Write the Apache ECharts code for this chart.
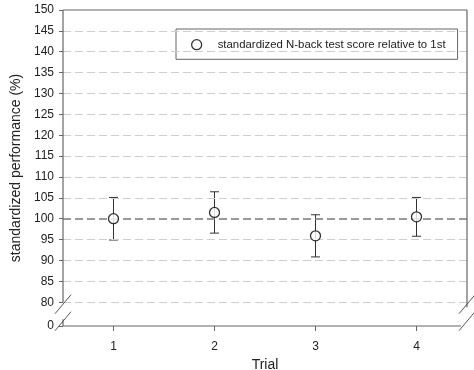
<!DOCTYPE html>
<html>
<head>
<meta charset="utf-8">
<script src="https://cdn.jsdelivr.net/npm/echarts@6/dist/echarts.min.js"></script>
<style>
html,body{margin:0;padding:0;background:#fff;}
#c{width:474px;height:370px;}
</style>
</head>
<body>
<div id="c"></div>
<script>
// ---- data ----
const categories = ['1', '2', '3', '4'];
const means = [100, 101.5, 95.9, 100.45];
const errors = [5.1, 4.95, 5.05, 4.65];
const yTicks = [80, 85, 90, 95, 100, 105, 110, 115, 120, 125, 130, 135, 140, 145, 150];
const yFloor = 74.3;          // position of the "0" label below the axis break
const yFloorLabel = '0';
const refValue = 100;
const seriesName = 'standardized N-back test score relative to 1st';

// ---- layout ----
const W = 474, H = 370;
const gridLeft = 63, gridRight = 7, gridTop = 10, gridBottom = 44;
const FONT = '"Liberation Sans", Arial, sans-serif';

const chart = echarts.init(document.getElementById('c'), null, {renderer: 'canvas'});

const tickVals = [yFloor].concat(yTicks);
const gridMarks = yTicks.filter(v => v !== 150 && v !== refValue).map(v => ({yAxis: v}));
gridMarks.push({yAxis: refValue, lineStyle: {color: '#7a7a7a', width: 1.5, type: [8, 4]}});

const option = {
  animation: false,
  backgroundColor: '#fff',
  textStyle: {fontFamily: FONT},
  grid: {left: gridLeft, right: gridRight, top: gridTop, bottom: gridBottom, containLabel: false, outerBoundsMode: 'none'},
  legend: {
    data: [{name: seriesName, icon: 'circle', itemStyle: {color: '#fff', borderColor: '#000', borderWidth: 1.3}}],
    left: 176, top: 29,
    padding: [10, 12, 9, 15],
    itemWidth: 10, itemHeight: 10,
    borderColor: '#666', borderWidth: 1,
    backgroundColor: '#fff',
    textStyle: {fontFamily: FONT, fontSize: 11.4, color: '#222', padding: [0, 0, 0, 11]},
    selectedMode: false
  },
  xAxis: {
    type: 'category',
    data: categories,
    boundaryGap: true,
    axisLine: {show: false},
    axisTick: {show: true, alignWithLabel: true, length: 5, lineStyle: {color: '#666'}},
    axisLabel: {fontSize: 12, color: '#222', margin: 15, fontFamily: FONT},
    splitLine: {show: false},
    name: 'Trial',
    nameLocation: 'middle',
    nameGap: 27,
    nameTextStyle: {fontSize: 14, color: '#222', fontFamily: FONT}
  },
  yAxis: {
    type: 'value',
    min: yFloor,
    max: 150,
    axisLine: {show: false},
    axisTick: {show: true, length: 4, customValues: tickVals, lineStyle: {color: '#666'}},
    axisLabel: {
      fontSize: 12, color: '#222', margin: 9, fontFamily: FONT,
      customValues: tickVals,
      formatter: v => (v < yTicks[0] ? yFloorLabel : String(Math.round(v)))
    },
    splitLine: {show: false},
    name: 'standardized performance (%)',
    nameLocation: 'middle',
    nameGap: 39,
    nameTextStyle: {fontSize: 14, color: '#222', fontFamily: FONT}
  },
  series: [
    {
      type: 'line',
      name: 'grid',
      data: means,
      showSymbol: false,
      lineStyle: {width: 0, opacity: 0},
      z: 1,
      silent: true,
      markLine: {
        silent: true,
        symbol: ['none', 'none'],
        label: {show: false},
        lineStyle: {color: '#cfcfcf', width: 1, type: [8, 4]},
        data: gridMarks
      }
    },
    {
      type: 'custom',
      name: 'errors',
      z: 3,
      data: categories.map((c, i) => [i, means[i] - errors[i], means[i] + errors[i]]),
      renderItem: function (params, api) {
        const lo = api.coord([api.value(0), api.value(1)]);
        const hi = api.coord([api.value(0), api.value(2)]);
        const cap = 4.5;
        const st = {stroke: '#333', lineWidth: 1};
        return {
          type: 'group',
          children: [
            {type: 'line', shape: {x1: lo[0], y1: lo[1], x2: hi[0], y2: hi[1]}, style: st},
            {type: 'line', shape: {x1: lo[0] - cap, y1: lo[1], x2: lo[0] + cap, y2: lo[1]}, style: st},
            {type: 'line', shape: {x1: hi[0] - cap, y1: hi[1], x2: hi[0] + cap, y2: hi[1]}, style: st}
          ]
        };
      }
    },
    {
      type: 'scatter',
      name: seriesName,
      z: 5,
      data: means,
      symbol: 'circle',
      symbolSize: 10,
      itemStyle: {color: '#fff', borderColor: '#000', borderWidth: 1.3}
    }
  ]
};

chart.setOption(option);

// ---- frame with axis-break marks (decoration) ----
const py = v => chart.convertToPixel({yAxisIndex: 0}, v);
const L = gridLeft, R = W - gridRight;
const yT = py(150), yB = py(yFloor), y80 = py(yTicks[0]);
const s1 = y80 + 2, s2 = y80 + 19;   // centres of the two break slashes
const dx = 8, dy = 9.5;
const frame = {stroke: '#666', lineWidth: 1.2};
const slashStyle = {stroke: '#555', lineWidth: 1};
function ln(x1, y1, x2, y2, st) { return {type: 'line', silent: true, shape: {x1, y1, x2, y2}, style: st, z: 10}; }
chart.setOption({
  graphic: [
    ln(L, yT, R, yT, frame),
    ln(L, yT, L, s1 - 2, frame),
    ln(L, s2 - 2, L, yB, frame),
    ln(R, yT, R, s1 + 3, frame),
    ln(L, yB, R - 6, yB, frame),
    ln(L - dx, s1 + dy, L + dx, s1 - dy, slashStyle),
    ln(L - dx, s2 + dy, L + dx, s2 - dy, slashStyle),
    ln(R - dx, s1 + dy, R + dx, s1 - dy, slashStyle),
    ln(R - dx, s2 + dy, R + dx, s2 - dy, slashStyle)
  ]
});
</script>
</body>
</html>
